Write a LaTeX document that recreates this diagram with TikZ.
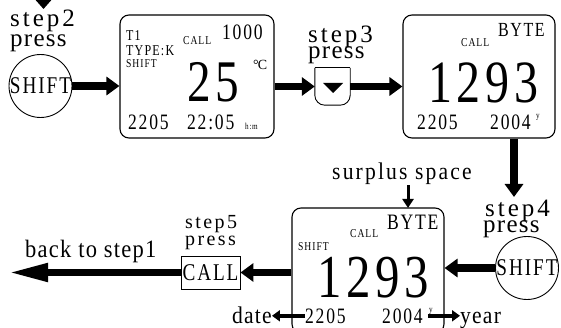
\documentclass[tikz,border=0pt]{standalone}
\usepackage{fontspec}
\usepackage{tikz}
\usetikzlibrary{arrows.meta}
\setmainfont{Liberation Serif}
\newfontfamily\lcdfont[FakeStretch=0.8,LetterSpace=8]{Liberation Serif}
\newfontfamily\lblfont[FakeStretch=0.9,LetterSpace=5]{Liberation Serif}
\newfontfamily\widefont[FakeStretch=0.9,LetterSpace=9]{Liberation Serif}
\newfontfamily\stepfont[LetterSpace=12]{Liberation Serif}
\newfontfamily\pressfont[LetterSpace=5]{Liberation Serif}
\newcommand{\fsz}[1]{\fontsize{#1}{#1}\selectfont}

\begin{document}
\begin{tikzpicture}[x=1pt,y=1pt,yscale=-1,
  screen/.style={draw,line width=1.1pt,rounded corners=9pt,inner sep=0pt},
  key/.style={draw,circle,line width=0.9pt,inner sep=0pt,font=\lcdfont\fsz{24}},
  txt/.style={inner sep=0pt,anchor=base west},
  lbl/.style={txt,font=\lblfont\fsz{24}},
  steplbl/.style={txt,font=\stepfont\fsz{25}},
  presslbl/.style={txt,font=\pressfont\fsz{25}},
  fatarrow/.style={line width=7.5pt,-{Triangle[length=13pt,width=18pt]}},
  thinarrow/.style={line width=3.5pt,-{Triangle[length=8pt,width=11pt]}}]
\useasboundingbox (0,0) rectangle (561,328);

%Shape: Screens
\node [screen,minimum width=154,minimum height=123] (scr1) at (197,76.5) {};
\node [screen,minimum width=152,minimum height=123] (scr2) at (479,76.5) {};
\node [screen,minimum width=152,minimum height=125] (scr3) at (368,270.5) {};

%Shape: Keys
\node [key,minimum size=58] (shiftA) at (40.5,86) {SHIFT};
\node [key,minimum size=60] (shiftB) at (527,268) {SHIFT};
\node [inner sep=0pt,minimum width=35,minimum height=37] (down) at (332.5,86.5) {};
\draw [line width=0.9pt,rounded corners=10pt] (down.north west) -- (down.south west) -- (down.south east) -- (down.north east);
\draw [line width=0.9pt] (down.north west) -- (down.north east);
\fill (323,83) -- (343,83) -- (333,93) -- cycle;
\node [draw,line width=0.9pt,minimum width=59,minimum height=33,inner sep=0pt,font=\lcdfont\fsz{24}] (callkey) at (210.5,272.5) {CALL};

% Text Node: labels
\node [steplbl] (s2) at (10,27) {step2};
\node [presslbl] (p2) at (10,47) {press};
\node [steplbl] (s3) at (308,43) {step3};
\node [presslbl] (p3) at (308,59) {press};
\node [steplbl] (s4) at (485,217) {step4};
\node [presslbl] (p4) at (483,233) {press};
\node [steplbl,font=\stepfont\fsz{20}] (s5) at (185,229) {step5};
\node [steplbl,font=\stepfont\fsz{20}] (p5) at (185,245) {press};
\node [lbl,font=\widefont\fsz{24}] (surplus) at (332,180) {surplus space};
\node [lbl,font=\lblfont\fsz{25}] (back) at (25,257) {back to step1};
\node [lbl] (date) at (232,323) {date};
\node [lbl] (year) at (460,323) {year};

% Text Node: screen 1
\node [txt,font=\lcdfont\fsz{15}] (t1) at (126,41) {T1};
\node [txt,font=\lcdfont\fsz{15}] (type) at (126,55.5) {TYPE:K};
\node [txt,font=\lcdfont\fsz{12}] (sh1) at (126,68) {SHIFT};
\node [txt,font=\lcdfont\fsz{12}] (call1) at (183,45) {CALL};
\node [txt,font=\lcdfont\fsz{22}] (cnt1) at (222,40) {1000};
\node [txt,font=\fsz{14}] (unit) at (253,70) {°\kern-1ptC};
\node [txt,font=\lcdfont\fsz{59}] (temp) at (187,102) {25};
\node [txt,font=\lcdfont\fsz{22}] (d1) at (128,130) {2205};
\node [txt,font=\lcdfont\fsz{22}] (tm1) at (187,130) {22:05};
\node [txt,font=\lcdfont\fsz{9}] (hm) at (245,130) {h:m};

% Text Node: screen 2
\node [txt,font=\lcdfont\fsz{20}] (byte2) at (498,37) {BYTE};
\node [txt,font=\lcdfont\fsz{12}] (call2) at (461,47) {CALL};
\node [txt,font=\lcdfont\fsz{60}] (num2) at (428,103) {1293};
\node [txt,font=\lcdfont\fsz{22}] (d2) at (417,130) {2205};
\node [txt,font=\lcdfont\fsz{22}] (yr2) at (490,130) {2004};
\node [txt,font=\lcdfont\fsz{9}] (ys2) at (536,119) {y};

% Text Node: screen 3
\node [txt,font=\lcdfont\fsz{22}] (byte3) at (387,230) {BYTE};
\node [txt,font=\lcdfont\fsz{12}] (call3) at (350,238) {CALL};
\node [txt,font=\lcdfont\fsz{12}] (sh3) at (298,251) {SHIFT};
\node [txt,font=\lcdfont\fsz{61}] (num3) at (317,297) {1293};
\node [txt,font=\lcdfont\fsz{22}] (d3) at (305,323) {2205};
\node [txt,font=\lcdfont\fsz{22}] (yr3) at (382,323) {2004};
\node [txt,font=\lcdfont\fsz{9}] (ys3) at (429,312) {y};

%Straight Lines: flow arrows
\coordinate (in2) at (43.5,-14);
\coordinate (tip2) at (43.5,9);
\draw [line width=7.5pt,-{Triangle[length=10pt,width=17pt]}] (in2) -- (tip2);
\draw [fatarrow] (shiftA.east) -- (shiftA.east -| scr1.west);
\draw [fatarrow] (down.west -| scr1.east) -- (down.west);
\draw [fatarrow] (down.east) -- (down.east -| scr2.west);
\coordinate (tip4) at (514,197);
\draw [fatarrow] (tip4 |- scr2.south) -- (tip4);
\draw [fatarrow] (shiftB.west) -- (shiftB.west -| scr3.east);
\draw [fatarrow] (callkey.east -| scr3.west) -- (callkey.east);
\coordinate (tip1) at (8,272.5);
\draw [line width=7.5pt,-{Triangle[length=40pt,width=17pt]}] (callkey.west) -- (tip1);
\coordinate (sp) at (408,208);
\draw [line width=3pt,-{Triangle[length=9pt,width=11pt]}] (sp |- surplus.south) -- (sp);
\draw [thinarrow] (d3.west) -- (d3.west -| date.east);
\draw [thinarrow] ([xshift=5pt]yr3.east) -- (yr3.east -| year.west);
\end{tikzpicture}
\end{document}
